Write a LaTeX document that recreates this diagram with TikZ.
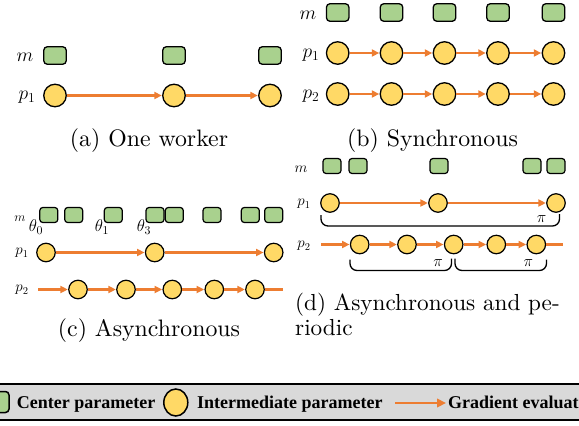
\RequirePackage{fix-cm}
\documentclass[tikz,border=0pt]{standalone}
\usepackage{fontspec}
\newfontfamily\legfont{Liberation Serif}
\newfontfamily\capfont{lmroman10-regular.otf}
\usetikzlibrary{arrows.meta,shapes.geometric}
\definecolor{cyel}{HTML}{FFD966}
\definecolor{cgrn}{HTML}{A9D18E}
\definecolor{corg}{HTML}{ED7D31}
\definecolor{cgry}{HTML}{D9D9D9}
\begin{document}
\begin{tikzpicture}[x=1pt,y=-1pt,
 sqA/.style={rectangle,rounded corners=3.5pt,draw=black,fill=cgrn,line width=1.3pt,inner sep=0pt,minimum width=22.5pt,minimum height=17.5pt},
 sqC/.style={rectangle,rounded corners=3pt,draw=black,fill=cgrn,line width=1.2pt,inner sep=0pt,minimum width=18pt,minimum height=15pt},
 cA/.style={circle,draw=black,fill=cyel,line width=1.3pt,inner sep=0pt,minimum size=22.5pt},
 cC/.style={circle,draw=black,fill=cyel,line width=1.2pt,inner sep=0pt,minimum size=18.5pt},
 grad/.style={draw=corg,line width=2.2pt,-{Triangle[length=7.5pt,width=7pt]},shorten >=0.3pt},
 gradline/.style={draw=corg,line width=2.2pt},
 labA/.style={font=\fontsize{19.5}{21}\selectfont,inner sep=0pt},
 labC/.style={font=\fontsize{15}{17}\selectfont,inner sep=0pt},
 labm/.style={font=\fontsize{13}{15}\selectfont,inner sep=0pt},
 th/.style={font=\fontsize{17}{19}\selectfont,inner sep=0pt},
 pil/.style={font=\fontsize{16}{18}\selectfont,inner sep=0pt},
 captxt/.style={font=\capfont\fontsize{23.8}{26}\selectfont,inner sep=0pt},
 captxtd/.style={font=\capfont\fontsize{23.2}{26}\selectfont,inner sep=0pt},
 brk/.style={draw=black,line width=1.3pt,rounded corners=7pt},
 legtxt/.style={font=\legfont\bfseries\fontsize{18}{20}\selectfont,inner sep=0pt,anchor=base west},
]
\useasboundingbox (0,0) rectangle (579,426);
\clip (0,0) rectangle (579,426);

% ---------- (a) One worker ----------
\node[sqA] (am1) at (55,55.5) {};
\node[sqA] (am2) at (174,55.5) {};
\node[sqA] (am3) at (270,55.5) {};
\node[cA] (ap1) at (55,95.5) {};
\node[cA] (ap2) at (174,95.5) {};
\node[cA] (ap3) at (270,95.5) {};
\draw[grad] (ap1) -- (ap2);
\draw[grad] (ap2) -- (ap3);
\node[labA] (aml) at (25,57) {$m$};
\node[labA] (apl) at (27,97) {$p_1$};
\node[captxt,anchor=base] (acap) at (149,146.5) {(a) One worker};

% ---------- (b) Synchronous ----------
\foreach \i/\x in {1/337.7,2/391.5,3/444.5,4/498,5/553.5}{
  \node[sqA] (bm\i) at (\x,12.5) {};
  \node[cA] (bp\i) at (\x,53) {};
  \node[cA] (bq\i) at (\x,94) {};
}
\foreach \i/\j in {1/2,2/3,3/4,4/5}{
  \draw[grad] (bp\i) -- (bp\j);
  \draw[grad] (bq\i) -- (bq\j);
}
\node[labA] (bml) at (308,15) {$m$};
\node[labA] (bpl) at (311,55) {$p_1$};
\node[labA] (bql) at (311,96) {$p_2$};
\node[captxt,anchor=base] (bcap) at (432.5,146.5) {(b) Synchronous};

% ---------- (c) Asynchronous ----------
\foreach \i/\x in {1/48.8,2/73.7,3/113.3,4/155,5/174.3,6/212,7/250.3,8/273.7}{
  \node[sqC] (cm\i) at (\x,215) {};
}
\node[labm] (cml) at (20,219) {$m$};
\node[th] (ct0) at (36,227) {$\theta_0$};
\node[th] (ct1) at (102,227) {$\theta_1$};
\node[th] (ct3) at (144,227) {$\theta_3$};
\node[cC] (cp1) at (46,252.5) {};
\node[cC] (cp2) at (154.7,252.5) {};
\node[cC] (cp3) at (273.7,252.5) {};
\draw[grad] (cp1) -- (cp2);
\draw[grad] (cp2) -- (cp3);
\node[labC] (cpl) at (22,253) {$p_1$};
\coordinate (cqs) at (38,289.5);
\coordinate (cqe) at (283,289.5);
\foreach \i/\x in {1/78,2/126,3/172.3,4/214.3,5/255}{
  \node[cC] (cq\i) at (\x,289.5) {};
}
\draw[grad] (cqs) -- (cq1);
\foreach \i/\j in {1/2,2/3,3/4,4/5}{ \draw[grad] (cq\i) -- (cq\j); }
\draw[gradline] (cq5) -- (cqe);
\node[labC] (cql) at (22,290) {$p_2$};
\node[captxt,anchor=base] (ccap) at (149,336.5) {(c) Asynchronous};

% ---------- (d) Asynchronous and periodic ----------
\foreach \i/\x in {1/332,2/358,3/439,4/532,5/556}{
  \node[sqC] (dm\i) at (\x,166) {};
}
\node[labC] (dml) at (301,169) {$m$};
\node[cC] (dp1) at (330,203) {};
\node[cC] (dp2) at (438,203) {};
\node[cC] (dp3) at (556,203) {};
\draw[grad] (dp1) -- (dp2);
\draw[grad] (dp2) -- (dp3);
\node[labC] (dpl) at (304,204) {$p_1$};
\coordinate (dqs) at (321,244.5);
\coordinate (dqe) at (563,244.5);
\foreach \i/\x in {1/359.7,2/407,3/453.7,4/496.3,5/536.3}{
  \node[cC] (dq\i) at (\x,244.5) {};
}
\draw[grad] (dqs) -- (dq1);
\foreach \i/\j in {1/2,2/3,3/4,4/5}{ \draw[grad] (dq\i) -- (dq\j); }
\draw[gradline] (dq5) -- (dqe);
\node[labC] (dql) at (304,246) {$p_2$};
\draw[brk] (321,215) -- (321,226) -- (559.5,226) -- (559.5,214);
\draw[brk] (350,259.5) -- (350,270.5) -- (451.5,270.5) -- (451.5,258.5);
\draw[brk] (455,258.5) -- (455,270.5) -- (546.5,270.5) -- (546.5,259.5);
\node[pil] (dpi1) at (541.7,219) {$\pi$};
\node[pil] (dpi2) at (438,263) {$\pi$};
\node[pil] (dpi3) at (528.3,263) {$\pi$};
\node[captxtd,anchor=base west] (dcap1) at (295,310) {(d) Asynchronous and pe-};
\node[captxtd,anchor=base west] (dcap2) at (295,335) {riodic};

% ---------- legend ----------
\path[fill=cgry] (-5,384) rectangle (584,420);
\draw[line width=2pt] (-5,384) -- (584,384);
\draw[line width=2pt] (-5,420) -- (584,420);
\node[rectangle,rounded corners=3.5pt,draw=black,fill=cgrn,line width=1.5pt,inner sep=0pt,minimum width=20pt,minimum height=21pt] (lsq) at (-1,402) {};
\node[legtxt] (ltc) at (16.7,408) {Center parameter};
\node[ellipse,draw=black,fill=cyel,line width=1.5pt,inner sep=0pt,minimum width=24pt,minimum height=27pt] (lci) at (175.8,402.5) {};
\node[legtxt] (lti) at (197,408) {Intermediate parameter};
\coordinate (las) at (395,403);
\coordinate (lae) at (446,403);
\draw[draw=corg,line width=2.5pt,-{Triangle[length=9pt,width=8.5pt]}] (las) -- (lae);
\node[legtxt] (ltg) at (448,408) {Gradient evaluat};
\end{tikzpicture}
\end{document}
